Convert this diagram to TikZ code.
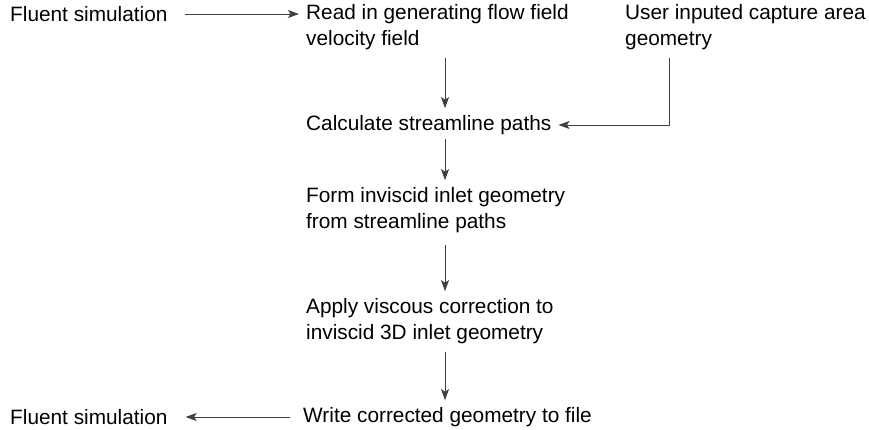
\documentclass[tikz,border=0pt]{standalone}
\usepackage{fontspec}
\setmainfont{Liberation Sans}
\usetikzlibrary{arrows.meta}

\begin{document}
\begin{tikzpicture}[x=1pt,y=-1pt,
  txt/.style={anchor=west,inner sep=0pt,align=left,font=\fontsize{20.8}{26}\selectfont},
  flow/.style={draw=black!75,line width=0.9pt,-{Stealth[length=11pt,width=8pt,inset=2.5pt]},shorten <=8pt,shorten >=7pt}]
\useasboundingbox (0,0) rectangle (869,430);
\node[txt] (fs1) at (10,14) {Fluent simulation};
\node[txt] (read) at (306,27) {Read in generating flow field\\velocity field};
\node[txt] (user) at (625,27) {User inputed capture area\\geometry};
\node[txt] (calc) at (306,125) {Calculate streamline paths};
\node[txt] (form) at (306,210) {Form inviscid inlet geometry\\from streamline paths};
\node[txt] (visc) at (306,321) {Apply viscous correction to\\inviscid 3D inlet geometry};
\node[txt] (write) at (303,417) {Write corrected geometry to file};
\node[txt] (fs2) at (10,417) {Fluent simulation};
\coordinate (spine) at (445,0);
\coordinate (ubend) at (669,125);
\draw[flow,shorten <=17pt] (fs1.east) -- (fs1.east -| read.west);
\draw[flow] (read.south -| spine) -- (calc.north -| spine);
\draw[flow,shorten <=4pt] (calc.south -| spine) -- (form.north -| spine);
\draw[flow,shorten <=12pt] (form.south -| spine) -- (visc.north -| spine);
\draw[flow] (visc.south -| spine) -- (write.north -| spine);
\draw[flow] (user.south -| ubend) -- (ubend) -- (calc.east);
\draw[flow,shorten <=13pt,shorten >=18pt] (write.west) -- (fs2.east);
\end{tikzpicture}
\end{document}
